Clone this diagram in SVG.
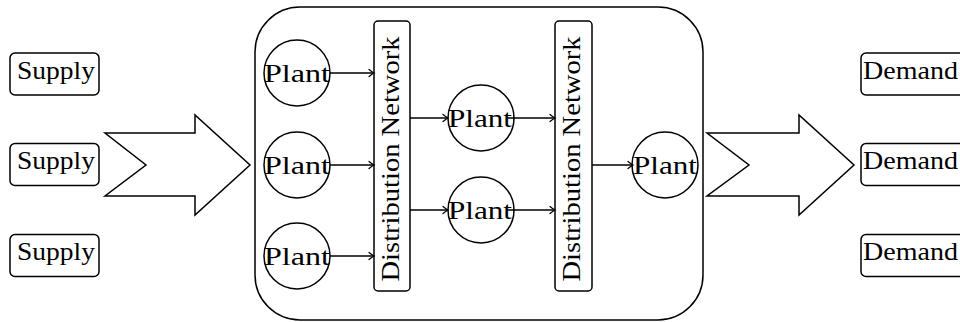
<svg xmlns="http://www.w3.org/2000/svg" width="960" height="322" viewBox="0 0 960 322">
<style>
.s{fill:#fff;stroke:#000;stroke-width:1.5}
.t{font-family:"Liberation Serif","DejaVu Serif",serif;font-size:26px;fill:#000}
.c{fill:none;stroke:#000;stroke-width:1.5}
</style>
<defs>
<marker id="ah" markerUnits="userSpaceOnUse" markerWidth="12" markerHeight="12" viewBox="-6 -6 12 12" refX="0" refY="0" orient="auto">
<path d="M-5,-3.5 Q-1.5,-0.6 0,0 Q-1.5,0.6 -5,3.5" fill="none" stroke="#000" stroke-width="1.2" stroke-linecap="round"/>
</marker>
</defs>
<rect width="960" height="322" fill="#fff"/>
<g id="container"><rect class="s" x="255" y="7" width="448" height="313" rx="45"/></g>
<g id="supply1"><rect class="s" x="10" y="53" width="89" height="42" rx="5"/><text class="t" x="17" y="78.5" textLength="78" lengthAdjust="spacingAndGlyphs">Supply</text></g>
<g id="supply2"><rect class="s" x="10" y="143.5" width="89" height="42" rx="5"/><text class="t" x="17" y="169" textLength="78" lengthAdjust="spacingAndGlyphs">Supply</text></g>
<g id="supply3"><rect class="s" x="10" y="234.5" width="89" height="42" rx="5"/><text class="t" x="17" y="260" textLength="78" lengthAdjust="spacingAndGlyphs">Supply</text></g>
<g id="arrowIn"><path class="s" d="M105,133 L195,133 L195,115 L250,165 L195,215 L195,196 L105,196 L146,165 Z"/></g>
<g id="arrowOut"><path class="s" d="M707,133 L799,133 L799,115 L854,165 L799,215 L799,196 L707,196 L749,165 Z"/></g>
<g id="demand1"><rect class="s" x="861" y="53" width="110" height="42" rx="5"/><text class="t" x="863" y="78.5" textLength="95" lengthAdjust="spacingAndGlyphs">Demand</text></g>
<g id="demand2"><rect class="s" x="861" y="143.5" width="110" height="42" rx="5"/><text class="t" x="863" y="169" textLength="95" lengthAdjust="spacingAndGlyphs">Demand</text></g>
<g id="demand3"><rect class="s" x="861" y="234.5" width="110" height="42" rx="5"/><text class="t" x="863" y="260" textLength="95" lengthAdjust="spacingAndGlyphs">Demand</text></g>
<g id="plant1"><circle class="s" cx="297" cy="73" r="33"/><text class="t" x="264" y="81.5" textLength="66" lengthAdjust="spacingAndGlyphs">Plant</text></g>
<g id="plant2"><circle class="s" cx="297" cy="165" r="33"/><text class="t" x="264" y="173.5" textLength="66" lengthAdjust="spacingAndGlyphs">Plant</text></g>
<g id="plant3"><circle class="s" cx="297" cy="256" r="33"/><text class="t" x="264" y="264.5" textLength="66" lengthAdjust="spacingAndGlyphs">Plant</text></g>
<g id="dn1"><rect class="s" x="374" y="21" width="36" height="270" rx="4"/><text class="t" transform="translate(399,159) rotate(-90)" text-anchor="middle" textLength="245" lengthAdjust="spacingAndGlyphs">Distribution Network</text></g>
<g id="plant4"><circle class="s" cx="481" cy="118" r="33"/><text class="t" x="448" y="126.5" textLength="64" lengthAdjust="spacingAndGlyphs">Plant</text></g>
<g id="plant5"><circle class="s" cx="481" cy="210" r="33"/><text class="t" x="448" y="218.5" textLength="64" lengthAdjust="spacingAndGlyphs">Plant</text></g>
<g id="dn2"><rect class="s" x="555" y="21" width="37" height="270" rx="4"/><text class="t" transform="translate(580,159) rotate(-90)" text-anchor="middle" textLength="245" lengthAdjust="spacingAndGlyphs">Distribution Network</text></g>
<g id="plant6"><circle class="s" cx="665" cy="165" r="33"/><text class="t" x="633" y="173.5" textLength="64" lengthAdjust="spacingAndGlyphs">Plant</text></g>
<g id="connectors">
<line class="c" x1="330" y1="73" x2="374" y2="73" marker-end="url(#ah)"/>
<line class="c" x1="330" y1="165" x2="374" y2="165" marker-end="url(#ah)"/>
<line class="c" x1="330" y1="256" x2="374" y2="256" marker-end="url(#ah)"/>
<line class="c" x1="410" y1="118" x2="448" y2="118" marker-end="url(#ah)"/>
<line class="c" x1="410" y1="210" x2="448" y2="210" marker-end="url(#ah)"/>
<line class="c" x1="507" y1="118" x2="555" y2="118" marker-end="url(#ah)"/>
<line class="c" x1="507" y1="210" x2="555" y2="210" marker-end="url(#ah)"/>
<line class="c" x1="592" y1="165" x2="633" y2="165" marker-end="url(#ah)"/>
</g>
</svg>
